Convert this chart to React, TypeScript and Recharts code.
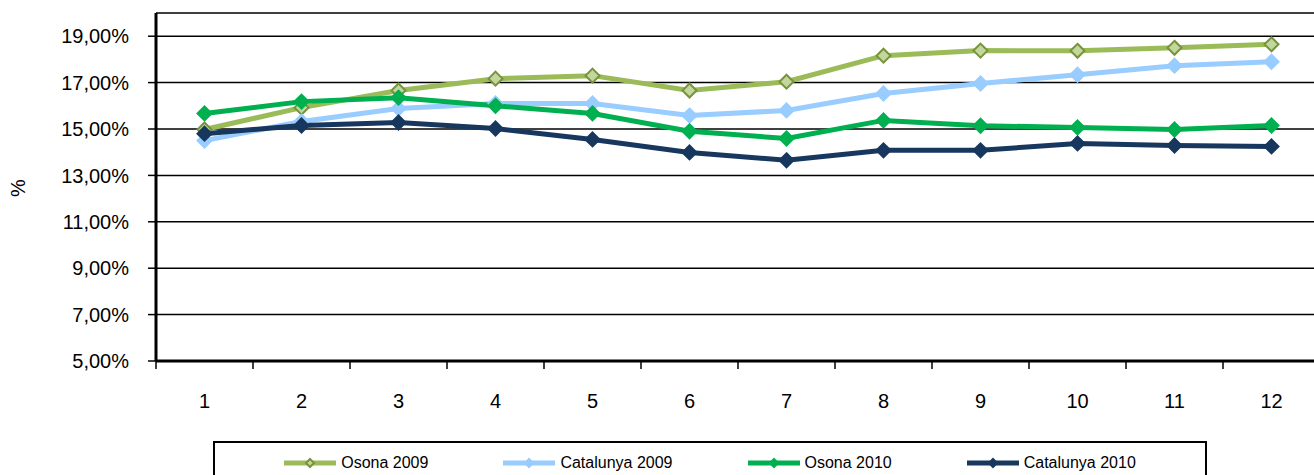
import { CartesianGrid, Legend, Line, LineChart, XAxis, YAxis } from 'recharts';

const months = ['1', '2', '3', '4', '5', '6', '7', '8', '9', '10', '11', '12'];
const osona2009 = [14.98, 15.92, 16.66, 17.17, 17.3, 16.66, 17.04, 18.16, 18.38, 18.37, 18.5, 18.65];
const catalunya2009 = [14.5, 15.32, 15.88, 16.1, 16.1, 15.58, 15.8, 16.53, 16.96, 17.34, 17.73, 17.9];
const osona2010 = [15.67, 16.18, 16.35, 16.0, 15.67, 14.9, 14.59, 15.37, 15.14, 15.07, 14.98, 15.15];
const catalunya2010 = [14.8, 15.15, 15.28, 15.02, 14.55, 13.99, 13.65, 14.08, 14.08, 14.38, 14.29, 14.25];
const yTicks = [5, 7, 9, 11, 13, 15, 17, 19];

const series = [
  { key: 'osona2009', name: 'Osona 2009', color: '#9BBB59', fill: '#C3D69B', edge: '#77933C' },
  { key: 'catalunya2009', name: 'Catalunya 2009', color: '#99CCFF', fill: '#99CCFF', edge: '#99CCFF' },
  { key: 'osona2010', name: 'Osona 2010', color: '#00B050', fill: '#00B050', edge: '#00B050' },
  { key: 'catalunya2010', name: 'Catalunya 2010', color: '#17375E', fill: '#17375E', edge: '#17375E' },
];

const data = months.map((m, i) => ({
  month: m,
  osona2009: osona2009[i],
  catalunya2009: catalunya2009[i],
  osona2010: osona2010[i],
  catalunya2010: catalunya2010[i],
}));

const FONT = '"Liberation Sans", Arial, sans-serif';
const BAND = 97;

function Diamond({ cx, cy, fill, stroke, r = 7 }: any) {
  if (cx == null || cy == null) return null;
  return (
    <polygon
      points={`${cx},${cy - r} ${cx + r},${cy} ${cx},${cy + r} ${cx - r},${cy}`}
      fill={fill}
      stroke={stroke}
      strokeWidth={2}
    />
  );
}

function MonthTick({ x, y, payload }: any) {
  const left = x - BAND / 2;
  return (
    <g>
      <line x1={left} y1={y} x2={left} y2={y + 8} stroke="#000" strokeWidth={1.5} />
      <text x={x} y={y + 47} textAnchor="middle" fontFamily={FONT} fontSize={20} fill="#000">
        {payload.value}
      </text>
    </g>
  );
}

function LegendBox() {
  return (
    <div
      style={{
        boxSizing: 'border-box',
        width: 994,
        height: 40,
        border: '2px solid #000',
        display: 'flex',
        justifyContent: 'center',
        alignItems: 'flex-start',
        paddingTop: 11,
        gap: 75,
        fontFamily: FONT,
        fontSize: 16,
        color: '#000',
      }}
    >
      {series.map((s) => (
        <div key={s.key} style={{ display: 'flex', alignItems: 'center', gap: 5 }}>
          <svg width={52} height={12}>
            <line x1={0} y1={6} x2={52} y2={6} stroke={s.color} strokeWidth={5} />
            <Diamond cx={26} cy={6} r={4} fill={s.fill} stroke={s.edge} />
          </svg>
          <span style={{ lineHeight: '18px' }}>{s.name}</span>
        </div>
      ))}
    </div>
  );
}

export default function App() {
  return (
    <div style={{ position: 'absolute', left: 0, top: 0, width: 1314, height: 475, overflow: 'hidden', background: '#fff' }}>
      <LineChart width={1320} height={475} data={data} margin={{ top: 13, right: 0, left: 0, bottom: 24 }}>
        <CartesianGrid vertical={false} stroke="#000" strokeWidth={1.5} />
        <XAxis
          dataKey="month"
          scale="band"
          interval={0}
          height={50}
          axisLine={{ stroke: '#000', strokeWidth: 3 }}
          tickLine={false}
          tickSize={0}
          tickMargin={0}
          tick={<MonthTick />}
        />
        <YAxis
          width={156}
          domain={[5, 20]}
          ticks={yTicks}
          interval={0}
          allowDataOverflow
          axisLine={{ stroke: '#000', strokeWidth: 3 }}
          tickLine={{ stroke: '#000', strokeWidth: 1.5 }}
          tickSize={8}
          tickMargin={19}
          tickFormatter={(v: number) => `${v.toFixed(2).replace('.', ',')}%`}
          tick={{ fill: '#000', fontSize: 20, fontFamily: FONT }}
          label={{ value: '%', angle: -90, position: 'insideLeft', offset: 18, fill: '#000', fontSize: 20, fontFamily: FONT, dy: 10 }}
        />
        {series.map((s) => (
          <Line
            key={s.key}
            dataKey={s.key}
            name={s.name}
            stroke={s.color}
            strokeWidth={5}
            isAnimationActive={false}
            dot={(p: any) => <Diamond key={`${s.key}-${p.index}`} cx={p.cx} cy={p.cy} fill={s.fill} stroke={s.edge} />}
            activeDot={false}
          />
        ))}
        <Legend
          content={() => <LegendBox />}
          wrapperStyle={{ position: 'absolute', left: 213, top: 441, width: 994, height: 40 }}
        />
      </LineChart>
    </div>
  );
}
